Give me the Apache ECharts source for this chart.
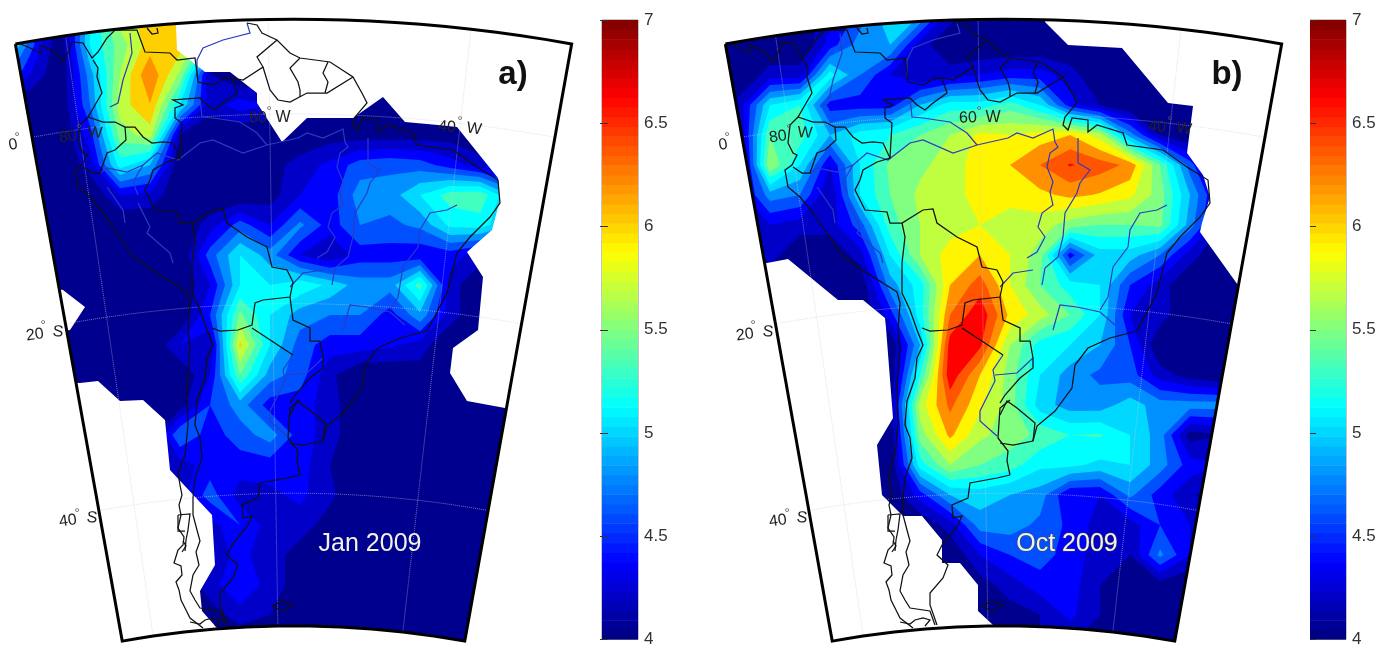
<!DOCTYPE html>
<html><head><meta charset="utf-8">
<style>html,body{margin:0;padding:0;background:#fff}#c{width:1390px;height:648px}</style>
<script src="https://cdn.jsdelivr.net/npm/echarts@6/dist/echarts.min.js"></script>
</head><body><div id="c"></div>
<script>
// contour levels and band colours
const levels=[4,4.2,4.4,4.6,4.8,5,5.2,5.4,5.6,5.8,6,6.2,6.4,6.6];
const colorsJan=['#00008F','#0000C8','#0000FF','#0050FF','#0090FF','#00D8FF','#00FFFF','#40FFBF','#80FF80','#BFFF40','#FFD000','#FF9000','#FF5500','#FF0000'];
const colorsOct=['#00008F','#0000C8','#0000FF','#0050FF','#0090FF','#00D8FF','#00FFFF','#40FFBF','#80FF80','#BFFF40','#FFF500','#FF9000','#FF5500','#FF0000'];
const gridX=[0,30,60,90,120,150,180,210,240,270,300,330,360,390,420,450,480,510,540,570];
const gridY=[15,45,75,105,135,165,195,225,255,285,315,345,375,405,435,465,495,525,555,585,615,645];
const tickLabels=[4,4.5,5,5.5,6,6.5,7];
// field, January 2009
const jan=[
[5.6,4.7,4,5.2,5.9,6.1,6.1,5.3,4,4,4,4,4,4,4,4,4,4,4,4],
[5.6,4.7,4,5.2,5.7,6.1,6.1,5.3,4,4,4,4,4,4,4,4,4,4,4,4],
[5,4.4,4,4.9,5.8,6.38,5.75,4.2,4,4,4,4,4,4,4,4,4,4,4,4],
[4,4,4,4.8,5.9,6.19,5.2,4.3,4.5,4.4,4,4,4,4,4,4,4,4,4,4],
[4,4,4,4.5,5.7,5.9,4.2,4,4,4,4,4.1,4.1,4.1,4.1,4.1,4,4,4,4],
[4,4,4,4.3,5.3,5,4,4,4,4.1,4.3,4.45,4.7,4.75,4.7,4.5,4.3,4.1,4,4],
[4,4,4,4,4.4,4.35,4,4,4,4.1,4.4,4.5,4.9,4.9,5.2,5.5,5.55,5,4,4],
[4,4,4,4,4,4,4,4.3,4.7,4.4,4.85,4.5,4.8,4.75,4.85,5.25,5.3,5,4,4],
[4,4,4,4,4,4,4,4.7,5.2,4.9,4.4,4.2,4.5,4.5,4.45,4.5,4.3,4,4,4],
[4,4,4,4,4,4,4,4.4,5.2,5.2,5.35,5.15,4.9,4.9,5.5,4.3,4,4,4,4],
[4,4,4,4,4,4,4,4.6,5.65,5.2,4.9,4.8,4.8,4.5,4.95,4.3,4,4,4,4],
[4,4,4,4,4,4,4.4,4.2,6.05,5.2,4.7,4.5,4.5,4.45,4.3,4,4,4,4,4],
[4,4,4,4,4,4,4,4.4,5.6,4.9,4.7,4.25,4,4,4.1,4,4,4,4,4],
[4,4,4,4,4,4,4.1,4.6,4.9,4.5,4.5,4.3,4,4,4,4,4,4,4,4],
[4,4,4,4,4,4,4.8,4.5,4.7,4.9,4.5,4.3,4,4,4,4,4,4,4,4],
[4,4,4,4,4,4.1,4.3,4.5,4.5,4.5,4.5,4.2,4,4,4,4,4,4,4,4],
[4,4,4,4,4,4,4.3,4.7,4.3,4.35,4.45,4.25,4,4,4,4,4,4,4,4],
[4,4,4,4,4,4,4,4.3,4.6,4.3,4.3,4.1,4,4,4,4,4,4,4,4],
[4,4,4,4,4,4,4,4.3,4.45,4.3,4.1,4,4,4,4,4,4,4,4,4],
[4,4,4,4,4,4,4,4.3,4.6,4.3,4.1,4,4,4,4,4,4,4,4,4],
[4,4,4,4,4,4,4,4.1,4.3,4.2,4,4,4,4,4,4,4,4,4,4],
[4,4,4,4,4,4,4,4,4,4,4,4,4,4,4,4,4,4,4,4]];
// same field, October 2009
const oct=[
[4,4,4,4,4.3,4.7,5.2,5,4.3,4,4,4,4,4,4,4,4,4,4,4],
[4,4,4,4,4.5,4.9,5,4.3,4,4,4,4,4,4,4,4,4,4,4,4],
[4,4,4.3,4.3,5.3,4.8,4.4,4.2,4.3,4.4,4.5,4.5,4.3,4,4,4,4,4,4,4],
[4,4.3,5.2,5.4,4.5,4.5,4.5,5,5.3,5.3,5.5,5.2,4.5,4.2,4,4,4,4,4,4],
[4,4.2,5.6,5.5,5,5.3,5.4,5.6,5.8,6.05,6,6.1,6.2,5.9,4.9,4.2,4,4,4,4],
[4,4,5.8,5.2,4.4,5.2,5.65,5.75,5.9,6.1,6.2,6.4,6.62,6.5,6.35,5.6,4.7,4,4,4],
[4,4.3,4.9,4.8,4.2,5.2,5.6,5.85,5.9,6.1,6.15,6.15,6.25,6.18,6.05,5.7,5,4.3,4,4],
[4,4.2,4.4,4.3,4.3,4.7,5.5,5.8,5.9,6,5.8,5.9,5.7,5.6,5.6,5.65,4.9,4.2,4,4],
[4,4,4.3,4,4,4.3,5.2,5.8,6.1,6.2,6,5.7,4.5,5.1,5.1,4.8,4.3,4,4,4],
[4,4,4,4,4,4,4.9,5.3,6.2,6.5,6,5.6,5.3,5.2,4.6,4.3,4,4,4,4],
[4,4,4,4,4,4,4.5,5.3,6.4,6.75,6.15,5.9,5.6,5.2,4.4,4.3,4,4,4,4],
[4,4,4,4,4,4,4,5,6.7,6.65,5.8,5.3,5.2,5,4.6,4,4,4,4,4],
[4,4,4,4,4,4,4,5.4,6.75,6.2,5.7,5.2,4.9,4.75,4.7,4.3,4.1,4,4,4],
[4,4,4,4,4,4,4.1,5.9,6.45,6.05,5.7,5.1,4.9,4.9,5.1,4.9,4.9,4.9,4.8,4.8],
[4,4,4,4,4,4,4,5.7,6.25,5.85,5.7,5.55,5.4,5.42,5.2,4.9,4.1,4.2,4.2,4.2],
[4,4,4,4,4,4,4,5.3,5.8,5.6,5.5,5.25,5.25,5.15,5.2,4.9,4.5,4.4,4.4,4.4],
[4,4,4,4,4,4,4,4.5,5,5.1,5,4.9,4.4,4.4,4.85,4.5,4.25,4,4,4],
[4,4,4,4,4,4,4,4,4.3,4.9,4.9,4.75,4.55,4.3,4.3,4.6,4.4,4.3,4.3,4.3],
[4,4,4,4,4,4,4,4,4,4.4,4.6,4.7,4.5,4.3,4.2,4.85,4.4,4.3,4.3,4.3],
[4,4,4,4,4,4,4,4,4,4.1,4.3,4.5,4.5,4.2,4.1,4.1,4,4,4,4],
[4,4,4,4,4,4,4,4,4,4,4.1,4.2,4.45,4.2,4.1,4,4,4,4,4],
[4,4,4,4,4,4,4,4,4,4,4,4.2,4.2,4,4,4,4,4,4,4]];
// areas without data (map units)
const noDataJan=[
[[176,0],[176,27],[177,50],[205,72],[230,72],[257,93],[257,103],[282,142],[307,118],[353,118],[383,97],[405,122],[438,125],[457,127],[498,178],[500,200],[492,230],[467,252],[483,277],[478,330],[453,348],[450,373],[467,401],[505,408],[600,408],[600,0]],
[[0,280],[63,290],[85,307],[70,330],[0,340]],
[[0,380],[80,383],[98,381],[120,401],[143,400],[165,420],[170,470],[212,515],[215,565],[200,591],[202,611],[217,628],[217,648],[0,648]]];
const noDataOct=[
[[335,0],[335,22],[358,45],[412,48],[458,103],[483,106],[477,153],[493,175],[500,197],[492,223],[490,232],[530,288],[600,288],[600,0]],
[[0,263],[57,263],[78,259],[128,300],[153,300],[175,318],[176,328],[183,418],[167,445],[172,495],[193,516],[212,516],[232,540],[232,563],[250,563],[268,585],[268,611],[283,625],[283,648],[0,648]]];
// coastlines and borders (map units)
const borders=[
[[93,60],[98,68],[97,77],[102,93],[95,105],[88,117],[80,125],[78,143],[83,153],[87,155],[82,165],[75,170],[78,187],[90,197],[103,213],[117,233],[133,257],[157,273],[187,292],[190,303],[188,330],[190,348],[187,388],[188,425],[185,455],[178,473],[180,485],[182,495],[179,505],[181,515],[178,528],[184,537],[183,545],[178,550],[174,563],[181,566],[182,575],[176,582],[179,590],[181,600],[186,610],[190,618],[203,628]],
[[178,515],[190,514],[188,530],[186,540],[185,551]],[[178,515],[178,531],[185,531]],[[183,541],[186,546],[182,552]],
[[192,282],[192,293],[200,310],[207,330],[213,345],[207,358],[205,378],[197,401],[195,425],[200,438],[202,458],[195,478],[193,498],[193,515],[197,530],[200,541],[196,552],[199,565],[193,575],[190,591],[195,600],[200,608],[220,611],[225,625]],
[[300,475],[287,478],[260,483],[258,498],[242,505],[243,518],[252,516],[248,525],[232,545],[227,555],[238,565],[233,578],[220,593],[220,605],[227,625]],
[[190,622],[200,624],[205,620],[213,618],[220,620],[215,626]],
[[272,606],[282,601],[293,605],[283,611],[272,606]],
[[290,443],[303,445],[323,441],[327,426],[345,411],[362,388],[365,365],[378,348],[400,338],[427,331],[447,293],[457,253],[470,237],[490,217],[500,203],[498,180],[477,167],[453,150],[417,145],[413,133],[387,125],[378,132],[378,120],[362,118],[358,130],[353,125],[355,117],[367,103],[363,95],[353,77],[330,62],[300,58],[290,53],[277,40],[262,33],[257,25],[247,23]],
[[323,441],[325,423],[307,408],[297,401],[290,415]],
[[300,400],[290,408],[288,438],[298,451],[297,461],[300,475]],
[[323,358],[323,368],[310,378],[295,395],[290,403]],
[[18,43],[28,47],[40,53],[40,45],[55,52],[62,62],[68,53],[72,42],[83,43],[92,58],[98,52],[107,38],[115,30],[137,30],[145,52],[170,53],[177,60],[195,58],[197,73],[198,82],[213,85],[225,78],[232,78],[237,93],[223,103],[215,110],[207,105],[200,98],[173,100],[183,105],[175,108],[175,118],[182,123],[180,158]],
[[147,28],[152,34],[158,33],[157,28]],
[[232,78],[243,80],[263,67],[257,57],[277,40]],
[[263,67],[270,90],[278,100],[290,102],[307,93],[327,93],[353,77]],
[[300,58],[290,68],[298,82],[300,90],[300,97]],
[[328,62],[323,73],[328,82],[325,93]],
[[88,117],[103,122],[115,122],[125,127],[135,127],[143,137],[152,143],[163,142],[173,143],[180,158],[167,162],[153,170],[150,180],[145,190],[155,210],[177,212],[180,223],[192,223],[213,210],[223,209],[227,223],[247,237],[267,247],[272,267],[287,270],[293,282],[290,297],[263,300],[255,303],[252,325],[238,330],[220,331],[212,328]],
[[125,127],[126,140],[115,150],[107,153],[100,173],[92,173],[83,167]],
[[192,223],[195,237],[192,263],[192,282]],
[[252,328],[293,355]],
[[290,297],[293,320],[310,328],[310,341],[320,341],[323,358]]];
// rivers (map units)
const rivers=[
[[143,165],[157,153],[178,160],[200,143],[213,140],[243,153],[267,145],[298,138],[307,133],[323,138],[343,129],[345,142],[348,147],[340,153],[337,167],[343,182],[340,192],[343,205],[332,213],[328,227],[335,237],[327,252],[317,258]],
[[368,138],[368,163],[380,170],[370,183],[367,193],[355,213],[353,237],[348,257],[335,268],[332,285]],
[[457,205],[447,210],[430,213],[420,230],[418,247],[403,267],[398,297],[390,310]],
[[290,287],[303,273],[323,270]],
[[343,330],[350,305],[367,307],[390,312],[405,325]],
[[293,355],[283,370],[285,381],[270,411],[270,421],[287,436]],
[[285,375],[307,373],[323,358]],
[[200,98],[202,117],[213,118],[240,122],[257,133],[267,145]],
[[247,23],[250,33],[223,40],[203,48],[197,60],[197,77]],
[[130,33],[132,53],[123,80],[118,103],[110,107]],
[[100,173],[107,168],[127,172],[143,165],[133,182],[138,195]],
[[107,187],[123,210],[125,223]],
[[138,203],[150,227],[147,233],[170,253],[173,263]]];
// map labels: text, x, y, rotation
const mapLabels=[['80',68,137,8],['W',95,133,-3],['60',258,118,3],['W',283,118,0],['40',447,127,-3],['W',474,129,-8],['0',13,145,10],['20',35,335,8],['S',58,332,-6],['40',68,521,8],['S',92,518,-6]];
const degreeMarks=[[79,126],[269,108],[460,118],[17,134],[43,322],[77,510]];
const meridians=[-80,-60,-40];
const parallels=[0,-20,-40];
const lonRange=[-85,-30],latRange=[10,-54];

// conic projection into map units
function project(lon,lat){
  const th=(lon+57.5)*0.369*Math.PI/180,r=1484+9.48*lat;
  return [293.5+r*Math.sin(th),1598-r*Math.cos(th)];
}
function lonLine(lon){const p=[];for(let la=latRange[0];la>=latRange[1];la-=2)p.push(project(lon,la));return p;}
function latLine(lat){const p=[];for(let lo=lonRange[0];lo<=lonRange[1];lo+=2.5)p.push(project(lo,lat));return p;}
const frame=[...latLine(latRange[0]),...lonLine(lonRange[1]),...latLine(latRange[1]).reverse(),...lonLine(lonRange[0]).reverse()];
frame.push(frame[0]);
const outside=[[0,0],[600,0],[600,648],[0,648],[0,0],...frame.slice().reverse(),[0,0]];

function contourPath(field,L,api){
  let d='',x0=1e9,y0=1e9,x1=-1e9,y1=-1e9;
  for(let r=0;r<gridY.length-1;r++)for(let c=0;c<gridX.length-1;c++){
    const P=[[gridX[c],gridY[r],field[r][c]],[gridX[c+1],gridY[r],field[r][c+1]],[gridX[c+1],gridY[r+1],field[r+1][c+1]],[gridX[c],gridY[r+1],field[r+1][c]]];
    const poly=[];
    for(let i=0;i<4;i++){
      const a=P[i],b=P[(i+1)%4];
      if(a[2]>=L)poly.push([a[0],a[1]]);
      if((a[2]>=L)!==(b[2]>=L)){const t=(L-a[2])/(b[2]-a[2]);poly.push([a[0]+t*(b[0]-a[0]),a[1]+t*(b[1]-a[1])]);}
    }
    if(poly.length<3)continue;
    poly.forEach((p,i)=>{const q=api.coord(p);d+=(i?'L':'M')+q[0].toFixed(2)+' '+q[1].toFixed(2);
      x0=Math.min(x0,q[0]);y0=Math.min(y0,q[1]);x1=Math.max(x1,q[0]);y1=Math.max(y1,q[1]);});
    d+='Z';
  }
  return d?{d,x0,y0,x1,y1}:null;
}
function contourSeries(field,colors,ax){
  return {type:'custom',xAxisIndex:ax,yAxisIndex:ax,silent:true,z:1,clip:false,animation:false,
    data:levels.map((L,i)=>[0,0,L,i]),
    renderItem(p,api){
      const i=p.dataIndex,g=contourPath(field,levels[i],api);
      if(!g)return null;
      return {type:'path',shape:{pathData:g.d,x:g.x0,y:g.y0,width:g.x1-g.x0,height:g.y1-g.y0,layout:'cover'},style:{fill:colors[i]}};
    }};
}
function polySeries(polys,ax,z){
  return {type:'custom',xAxisIndex:ax,yAxisIndex:ax,silent:true,z,clip:false,animation:false,
    data:polys.map(()=>[0,0]),
    renderItem(p,api){return {type:'polygon',shape:{points:polys[p.dataIndex].map(q=>api.coord(q))},style:{fill:'#fff'}};}};
}
function linesSeries(paths,ax,z,style){
  return {type:'lines',coordinateSystem:'cartesian2d',xAxisIndex:ax,yAxisIndex:ax,polyline:true,silent:true,z,animation:false,
    lineStyle:style,data:paths.map(c=>({coords:c}))};
}
function textSeries(items,ax,z){
  return {type:'scatter',xAxisIndex:ax,yAxisIndex:ax,symbolSize:0,silent:true,z,animation:false,itemStyle:{opacity:1},
    data:items.map(t=>({value:[t.x,t.y],label:{show:true,position:'inside',opacity:1,formatter:t.text,rotate:t.rot||0,fontFamily:'Liberation Sans',fontSize:t.size,fontWeight:t.bold?'bold':'normal',color:t.color||'#222',textBorderColor:t.halo||'transparent',textBorderWidth:t.halo?1:0}}))};
}
function jet(t){const f=o=>Math.round(255*Math.max(0,Math.min(1,Math.min(4*t-o+1.5,-4*t+o+1.5))));
  return `rgb(${f(3)},${f(2)},${f(1)})`;}
const cbSteps=[];for(let i=0;i<64;i++)cbSteps.push(i);
function colorbarSeries(ax){
  return {type:'custom',xAxisIndex:ax,yAxisIndex:ax,silent:true,z:2,clip:true,animation:false,
    data:cbSteps.map(i=>[0,4+i*3/64]),
    renderItem(p,api){
      const i=cbSteps[p.dataIndex],a=api.coord([0,4+(i+1)*3/64]),b=api.coord([1,4+i*3/64]);
      return {type:'rect',shape:{x:a[0],y:a[1],width:b[0]-a[0],height:b[1]-a[1]+0.5},style:{fill:jet((i+0.5)/64)}};
    }};
}
function panel(ax,field,colors,noData,tag,month,monthX,monthHalo){
  const grat=[...meridians.map(lonLine),...parallels.map(latLine)];
  const labels=mapLabels.map(l=>({text:l[0],x:l[1],y:l[2],rot:l[3],size:16}));
  const deg=degreeMarks.map(d=>({text:'°',x:d[0],y:d[1]+3,size:13,color:'#555'}));
  return [
    contourSeries(field,colors,ax),
    polySeries(noData,ax,2),
    linesSeries(grat,ax,3,{color:'rgba(205,205,215,0.55)',width:1,type:'dotted',opacity:1}),
    linesSeries(rivers,ax,4,{color:'#2b3bc0',width:1.2,opacity:1}),
    linesSeries(borders,ax,5,{color:'#111',width:1.25,opacity:1}),
    polySeries([outside],ax,6),
    linesSeries([frame],ax,7,{color:'#000',width:3,opacity:1}),
    textSeries([...labels,...deg,
      {text:tag,x:tag==='a)'?513:517,y:75,size:33,bold:true,color:'#111'},
      {text:month,x:monthX,y:544,size:25,color:'#f2f2e6',halo:monthHalo}],ax,8)
  ];
}
const grids=[{left:0,top:0,width:600,height:648},{left:710,top:0,width:600,height:648},
 {left:602,top:20,width:36,height:622,show:true,borderColor:'#8a8a8a',borderWidth:1,backgroundColor:'#fff'},
 {left:1310,top:20,width:36,height:622,show:true,borderColor:'#8a8a8a',borderWidth:1,backgroundColor:'#fff'}];
const mapX=i=>({gridIndex:i,type:'value',min:0,max:600,show:false});
const mapY=i=>({gridIndex:i,type:'value',min:0,max:648,inverse:true,show:false});
const cbX=i=>({gridIndex:i,type:'value',min:0,max:1,show:false});
const cbY=(i,pos,lab)=>({gridIndex:i,type:'value',min:tickLabels[0],max:tickLabels[tickLabels.length-1],interval:0.5,position:pos,z:5,
  axisLine:{show:false},splitLine:{show:false},axisTick:{show:true,inside:true,length:6,lineStyle:{color:'#333',width:1}},
  axisLabel:{show:lab,margin:6,fontFamily:'Liberation Sans',fontSize:17,color:'#333',formatter:v=>String(v)}});
const option={animation:false,backgroundColor:'#fff',grid:grids,
  xAxis:[mapX(0),mapX(1),cbX(2),cbX(3),cbX(2),cbX(3)],
  yAxis:[mapY(0),mapY(1),cbY(2,'right',true),cbY(3,'right',true),cbY(2,'left',false),cbY(3,'left',false)],
  series:[
    ...panel(0,jan,colorsJan,noDataJan,'a)','Jan 2009',370,null),
    ...panel(1,oct,colorsOct,noDataOct,'b)','Oct 2009',357,'#444'),
    colorbarSeries(2),colorbarSeries(3),
    {type:'line',xAxisIndex:4,yAxisIndex:4,data:[],silent:true},
    {type:'line',xAxisIndex:5,yAxisIndex:5,data:[],silent:true}
  ]};
const chart=echarts.init(document.getElementById('c'),null,{renderer:'canvas'});
chart.setOption(option);
</script></body></html>
